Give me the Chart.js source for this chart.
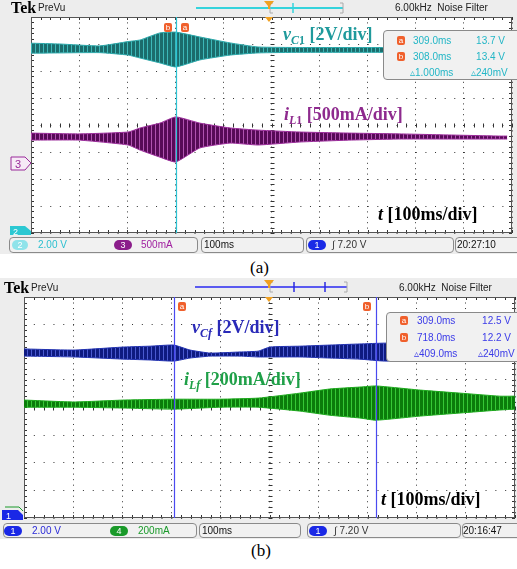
<!DOCTYPE html>
<html>
<head>
<meta charset="utf-8">
<script src="https://cdn.jsdelivr.net/npm/chart.js@4.4.0/dist/chart.umd.min.js"></script>
<style>
  body { margin: 0; width: 517px; height: 569px; background: #fff; position: relative; overflow: hidden;
         font-family: 'Liberation Sans', Arial, sans-serif; }
  .abs { position: absolute; white-space: nowrap; }
  .scope { position: absolute; left: 0; width: 517px; background: #ededed; }
  canvas { position: absolute; left: 0; }
  .tek { font-family: 'Liberation Serif', serif; font-weight: bold; font-size: 16px; line-height: 1; }
  .prevu { font-size: 10px; line-height: 1; color: #222; }
  .small { font-size: 10px; line-height: 1; color: #222; }
  .box { position: absolute; border: 1px solid #8a8a8a; border-radius: 4px; background: #f1f1f1; box-sizing: border-box; }
  .pill { position: absolute; height: 10px; border-radius: 5px; color: #fff; font-size: 9px; line-height: 10px; text-align: center; }
  .badge { position: absolute; width: 8px; height: 9px; border-radius: 2px; background: #f0602c; color: #fff;
           font-size: 8px; line-height: 9px; text-align: center; }
  .label { position: absolute; white-space: nowrap; font-family: 'Liberation Serif', serif; font-weight: bold;
           font-size: 18px; line-height: 1; }
  .label sub { font-size: 12px; vertical-align: baseline; position: relative; top: 4px; }
  .read { position: absolute; font-size: 10px; line-height: 11px; white-space: nowrap; }
  .cap { position: absolute; font-family: 'Liberation Serif', serif; font-size: 17px; line-height: 1; }
</style>
</head>
<body>

<!-- panel (a) -->
<div class="scope" style="top:0;height:254px"></div>
<canvas id="chartA" width="517" height="254" style="top:0"></canvas>
<svg class="abs" style="left:0;top:0" width="517" height="254">
  <line x1="196" y1="8" x2="343" y2="8" stroke="#35d3dc" stroke-width="2"/>
  <path d="M273,3 L270,3 L270,13 L273,13" fill="none" stroke="#aaa"/>
  <path d="M340,3 L343,3 L343,13 L340,13" fill="none" stroke="#aaa"/>
  <line x1="293" y1="3" x2="293" y2="13" stroke="#35d3dc" stroke-width="1.5"/>
  <polygon points="264,1 274,1 270,6 270,9 268,9 268,6" fill="#f0a020"/>
  <polygon points="265,17 273,17 269,22" fill="#f0a020"/>
  <polygon points="11,157 25,157 31,163 25,170 11,170" fill="#f6eaf6" stroke="#9a2a9a"/>
  <text x="15" y="168" font-size="11" fill="#9a2a9a" font-family="Liberation Sans">3</text>
  <polygon points="10,226 25,226 31,231 31,235 10,235" fill="#2cc8d2"/>
  <text x="13" y="234.5" font-size="9" fill="#fff" font-family="Liberation Sans">2</text>
</svg>
<div class="abs tek" style="left:11px;top:0px">Tek</div>
<div class="abs prevu" style="left:38px;top:3px">PreVu</div>
<div class="abs small" style="left:395px;top:3px">6.00kHz&nbsp;&nbsp;Noise Filter</div>
<div class="badge" style="left:164px;top:23px">b</div>
<div class="badge" style="left:181px;top:23px">a</div>

<div class="box" style="left:383px;top:30px;width:140px;height:50px"></div>
<div class="badge" style="left:397px;top:36px">a</div>
<div class="read" style="left:413px;top:35px;color:#22b6c6">309.0ms</div>
<div class="read" style="left:466px;top:35px;width:39px;text-align:right;color:#22b6c6">13.7 V</div>
<div class="badge" style="left:397px;top:52px">b</div>
<div class="read" style="left:413px;top:51px;color:#22b6c6">308.0ms</div>
<div class="read" style="left:466px;top:51px;width:39px;text-align:right;color:#22b6c6">13.4 V</div>
<div class="read" style="left:410px;top:67px;color:#22b6c6">▵1.000ms</div>
<div class="read" style="left:471px;top:67px;color:#22b6c6">▵240mV</div>

<div class="label" style="left:283px;top:25px;color:#1f9a9c"><i>v</i><sub><i>C</i>1</sub> [2V/div]</div>
<div class="label" style="left:284px;top:105px;color:#8e2a8e"><i>i</i><sub><i>L</i>1</sub> [500mA/div]</div>
<div class="label" style="left:378px;top:205px;color:#000"><i>t</i> [100ms/div]</div>

<div class="box" style="left:9px;top:237px;width:189px;height:16px"></div>
<div class="pill" style="left:12px;top:240px;width:16px;background:#8fe3ea">2</div>
<div class="read" style="left:38px;top:239px;color:#2cc0d0">2.00 V</div>
<div class="pill" style="left:114px;top:240px;width:18px;background:#8b1d8b">3</div>
<div class="read" style="left:141px;top:239px;color:#a020a0">500mA</div>
<div class="box" style="left:201px;top:237px;width:103px;height:16px"></div>
<div class="read" style="left:204px;top:239px;color:#111">100ms</div>
<div class="box" style="left:306px;top:237px;width:148px;height:16px"></div>
<div class="pill" style="left:308px;top:240px;width:18px;background:#1a2ae6">1</div>
<div class="read" style="left:332px;top:239px;color:#333">∫ 7.20 V</div>
<div class="box" style="left:455px;top:237px;width:70px;height:16px"></div>
<div class="read" style="left:457px;top:239px;color:#111">20:27:10</div>

<div class="cap" style="left:250px;top:259px">(a)</div>

<!-- panel (b) -->
<div class="scope" style="top:278px;height:261px"></div>
<canvas id="chartB" width="517" height="261" style="top:278px"></canvas>
<svg class="abs" style="left:0;top:278px" width="517" height="261">
  <line x1="195" y1="9" x2="347" y2="9" stroke="#5a5af0" stroke-width="2"/>
  <path d="M273,4 L270,4 L270,14 L273,14" fill="none" stroke="#aaa"/>
  <path d="M344,4 L347,4 L347,14 L344,14" fill="none" stroke="#aaa"/>
  <line x1="294" y1="4" x2="294" y2="14" stroke="#2a2ae0" stroke-width="1.5"/>
  <line x1="325" y1="4" x2="325" y2="14" stroke="#2a2ae0" stroke-width="1.5"/>
  <polygon points="264,2 274,2 270,7 270,10 268,10 268,7" fill="#f0a020"/>
  <polygon points="265,19 273,19 269,24" fill="#f0a020"/>
  <path d="M5,229 L19,229 L23,233" fill="none" stroke="#1a9a2a"/>
  <polygon points="2,232 18,232 23,237 23,242 2,242" fill="#1a28e6"/>
  <text x="6" y="241" font-size="9" fill="#fff" font-family="Liberation Sans">1</text>
</svg>
<div class="abs tek" style="left:4px;top:280px">Tek</div>
<div class="abs prevu" style="left:31px;top:283px">PreVu</div>
<div class="abs small" style="left:399px;top:283px">6.00kHz&nbsp;&nbsp;Noise Filter</div>
<div class="badge" style="left:178px;top:302px">a</div>
<div class="badge" style="left:363px;top:302px">b</div>

<div class="box" style="left:386px;top:312px;width:140px;height:50px"></div>
<div class="badge" style="left:400px;top:316px">a</div>
<div class="read" style="left:417px;top:315px;color:#3a3ae8">309.0ms</div>
<div class="read" style="left:472px;top:315px;width:39px;text-align:right;color:#3a3ae8">12.5 V</div>
<div class="badge" style="left:400px;top:333px">b</div>
<div class="read" style="left:417px;top:332px;color:#3a3ae8">718.0ms</div>
<div class="read" style="left:472px;top:332px;width:39px;text-align:right;color:#3a3ae8">12.2 V</div>
<div class="read" style="left:414px;top:348px;color:#3a3ae8">▵409.0ms</div>
<div class="read" style="left:478px;top:348px;color:#3a3ae8">▵240mV</div>

<div class="label" style="left:192px;top:318px;color:#2a2ab8"><i>v</i><sub><i>Cf</i></sub> [2V/div]</div>
<div class="label" style="left:184px;top:370px;color:#1fa048"><i>i</i><sub><i>Lf</i></sub> [200mA/div]</div>
<div class="label" style="left:381px;top:490px;color:#000"><i>t</i> [100ms/div]</div>

<div class="box" style="left:3px;top:523px;width:194px;height:15px"></div>
<div class="pill" style="left:4px;top:526px;width:18px;background:#1a28e6">1</div>
<div class="read" style="left:32px;top:525px;color:#2a2ad8">2.00 V</div>
<div class="pill" style="left:110px;top:526px;width:18px;background:#1a9a2a">4</div>
<div class="read" style="left:138px;top:525px;color:#1a9a2a">200mA</div>
<div class="box" style="left:199px;top:523px;width:102px;height:15px"></div>
<div class="read" style="left:202px;top:525px;color:#111">100ms</div>
<div class="box" style="left:307px;top:523px;width:154px;height:15px"></div>
<div class="pill" style="left:309px;top:526px;width:18px;background:#1a28e6">1</div>
<div class="read" style="left:334px;top:525px;color:#333">∫ 7.20 V</div>
<div class="box" style="left:462px;top:523px;width:62px;height:15px"></div>
<div class="read" style="left:463px;top:525px;color:#111">20:16:47</div>

<div class="cap" style="left:251px;top:542px">(b)</div>

<script>
// Envelopes of the traces: time in ms (100 ms/div), level in divisions
const timeC1 = [0, 60, 143, 202, 227, 268, 301, 351, 414, 472, 559, 721, 1000];
const vC1Upper = [3.03, 3.00, 2.93, 3.09, 3.15, 3.41, 3.44, 3.26, 3.04, 2.89, 2.87, 2.87, 2.87];
const vC1Lower = [2.66, 2.67, 2.68, 2.59, 2.48, 2.30, 2.15, 2.41, 2.59, 2.67, 2.69, 2.69, 2.69];

const timeL1 = [0, 100, 202, 227, 268, 301, 351, 414, 472, 559, 663, 767, 871, 975, 990];
const iL1Upper = [-0.30, -0.33, -0.26, -0.11, 0.07, 0.30, 0.07, -0.11, -0.19, -0.26, -0.30, -0.33, -0.37, -0.41, -0.41];
const iL1Lower = [-0.56, -0.56, -0.74, -0.93, -1.19, -1.37, -0.85, -0.67, -0.74, -0.63, -0.56, -0.52, -0.52, -0.52, -0.52];

const timeCf = [0, 102, 204, 257, 305, 338, 379, 440, 477, 501, 562, 623, 684, 735, 1000];
const vCfUpper = [2.12, 2.08, 2.19, 2.22, 2.26, 2.08, 1.97, 2.01, 2.04, 2.19, 2.22, 2.26, 2.30, 2.33, 2.33];
const vCfLower = [1.86, 1.83, 1.75, 1.72, 1.68, 1.79, 1.86, 1.86, 1.83, 1.83, 1.83, 1.79, 1.75, 1.68, 1.68];

const timeLf = [0, 102, 204, 305, 399, 477, 562, 623, 684, 717, 807, 888, 969, 1000];
const iLfUpper = [0.27, 0.20, 0.27, 0.30, 0.30, 0.34, 0.52, 0.67, 0.74, 0.78, 0.63, 0.52, 0.41, 0.41];
const iLfLower = [0.01, 0.01, -0.02, -0.06, 0.01, 0.01, -0.13, -0.28, -0.38, -0.46, -0.31, -0.20, -0.09, -0.06];

// Cursor positions (ms)
const cursorsA = [301];
const cursorsB = [305, 717];

// vertical stripes to look like a dense oscillation
function stripes(ctx, dark, light) {
  const c = document.createElement('canvas');
  c.width = 4; c.height = 1;
  const g = c.getContext('2d');
  g.fillStyle = dark; g.fillRect(0, 0, 4, 1);
  g.fillStyle = light; g.fillRect(3, 0, 1, 1);
  return ctx.createPattern(c, 'repeat');
}

function envelope(time, upper, lower, line, fillStyle) {
  return [
    { data: time.map((t, i) => ({ x: t, y: upper[i] })), borderColor: line, borderWidth: 1,
      pointRadius: 0, fill: false, tension: 0.15 },
    { data: time.map((t, i) => ({ x: t, y: lower[i] })), borderColor: line, borderWidth: 1,
      pointRadius: 0, fill: '-1', backgroundColor: fillStyle, tension: 0.15 }
  ];
}

// white screen, solid frame, Tek-style minor ticks and cursors
const scopeFrame = {
  id: 'scopeFrame',
  beforeDraw(chart) {
    const a = chart.chartArea, ctx = chart.ctx;
    ctx.save();
    ctx.fillStyle = '#fff';
    ctx.fillRect(a.left, a.top, a.right - a.left, a.bottom - a.top);
    ctx.restore();
  },
  beforeDatasetsDraw(chart) {
    const a = chart.chartArea, ctx = chart.ctx;
    const x = chart.scales.x, y = chart.scales.y;
    const cx = Math.round(x.getPixelForValue(500)) + 0.5;
    const cy = Math.round(y.getPixelForValue(0)) + 0.5;
    ctx.save();
    ctx.strokeStyle = '#333';
    ctx.lineWidth = 1;
    ctx.beginPath();
    for (let v = 0; v <= 1000; v += 20) {
      const px = Math.round(x.getPixelForValue(v)) + 0.5;
      ctx.moveTo(px, a.top); ctx.lineTo(px, a.top + 3);
      ctx.moveTo(px, a.bottom); ctx.lineTo(px, a.bottom - 3);
      ctx.moveTo(px, cy - 2); ctx.lineTo(px, cy + 2);
    }
    for (let v = -4; v <= 4.001; v += 0.2) {
      const py = Math.round(y.getPixelForValue(v)) + 0.5;
      ctx.moveTo(a.left, py); ctx.lineTo(a.left + 3, py);
      ctx.moveTo(a.right, py); ctx.lineTo(a.right - 3, py);
      ctx.moveTo(cx - 2, py); ctx.lineTo(cx + 2, py);
    }
    ctx.stroke();
    ctx.strokeStyle = '#555';
    ctx.strokeRect(a.left + 0.5, a.top + 0.5, a.right - a.left - 1, a.bottom - a.top - 1);
    ctx.restore();
  },
  afterDatasetsDraw(chart, args, opts) {
    const a = chart.chartArea, ctx = chart.ctx, x = chart.scales.x;
    ctx.save();
    ctx.strokeStyle = opts.color;
    ctx.lineWidth = 1.2;
    opts.cursors.forEach(c => {
      const px = Math.round(x.getPixelForValue(c)) + 0.5;
      ctx.beginPath(); ctx.moveTo(px, a.top); ctx.lineTo(px, a.bottom); ctx.stroke();
    });
    ctx.restore();
  }
};

function scopeScales(xDot, yDot) {
  return {
    x: { type: 'linear', min: 0, max: 1000, ticks: { display: false, stepSize: 100 },
         grid: { color: '#333', drawTicks: false }, border: { display: false, dash: [1, xDot - 1] } },
    y: { type: 'linear', min: -4, max: 4, ticks: { display: false, stepSize: 1 },
         grid: { color: '#333', drawTicks: false }, border: { display: false, dash: [1, yDot - 1] } }
  };
}

function makeScope(id, datasets, padding, dots, cursors, cursorColor) {
  return new Chart(document.getElementById(id), {
    type: 'line',
    data: { datasets: datasets },
    options: {
      responsive: false,
      animation: false,
      devicePixelRatio: 1,
      events: [],
      layout: { padding: padding },
      scales: scopeScales(dots[0], dots[1]),
      plugins: {
        legend: { display: false },
        tooltip: { enabled: false },
        scopeFrame: { cursors: cursors, color: cursorColor }
      }
    },
    plugins: [scopeFrame]
  });
}

const ctxA = document.getElementById('chartA').getContext('2d');
const ctxB = document.getElementById('chartB').getContext('2d');

makeScope('chartA',
  [].concat(
    envelope(timeC1, vC1Upper, vC1Lower, '#2aa8aa', stripes(ctxA, '#1b6c6c', '#3cb8b8')),
    envelope(timeL1, iL1Upper, iL1Lower, '#9a2a9a', stripes(ctxA, '#570a57', '#b052b0'))
  ),
  { left: 31, top: 17, right: 5, bottom: 21 }, [5.4, 9.62], cursorsA, '#2cc4d4');

makeScope('chartB',
  [].concat(
    envelope(timeCf, vCfUpper, vCfLower, '#2030b0', stripes(ctxB, '#0e1a80', '#4a5ad0')),
    envelope(timeLf, iLfUpper, iLfLower, '#1aa81a', stripes(ctxB, '#0b7c0b', '#36c836'))
  ),
  { left: 24, top: 19, right: 2, bottom: 21 }, [5.52, 9.82], cursorsB, '#4a4af0');
</script>
</body>
</html>
